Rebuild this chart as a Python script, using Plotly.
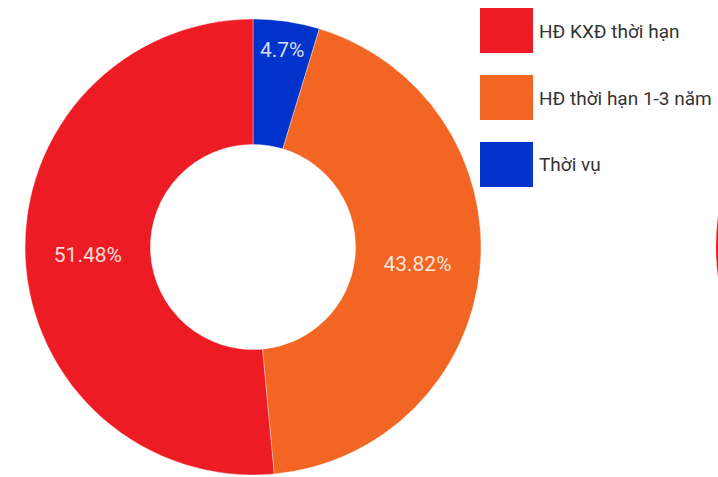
import plotly.graph_objects as go

# Contract-type breakdown (percent of staff)
labels = ["HĐ KXĐ thời hạn", "HĐ thời hạn 1-3 năm", "Thời vụ"]
values = [51.48, 43.82, 4.7]
colors = ["#ED1C24", "#F26522", "#0033CC"]

W, H = 718, 477

# Slices run clockwise from 12 o'clock: Thời vụ, 1-3 năm, KXĐ
order = [2, 1, 0]

fig = go.Figure()
fig.add_trace(go.Pie(
    labels=[labels[i] for i in order],
    values=[values[i] for i in order],
    hole=0.45,
    sort=False,
    direction="clockwise",
    rotation=0,
    marker=dict(colors=[colors[i] for i in order],
                line=dict(color="rgba(255,255,255,0.35)", width=1)),
    texttemplate="%{value}%",
    textposition="inside",
    insidetextorientation="horizontal",
    textfont=dict(family="Roboto, Liberation Sans, sans-serif", size=21,
                  color="rgba(255,255,255,0.85)"),
    hoverinfo="label+percent",
    showlegend=False,
    domain=dict(x=[25 / W, 481 / W], y=[1 - 475 / H, 1 - 19 / H]),
))

# Custom legend: large colour blocks with labels beside them
shapes = []
annotations = []
for i, (lab, col) in enumerate(zip(labels, colors)):
    top = 8 + i * 67
    shapes.append(dict(
        type="rect", xref="paper", yref="paper",
        x0=480 / W, x1=533 / W, y0=1 - (top + 45) / H, y1=1 - top / H,
        fillcolor=col, line=dict(width=0),
    ))
    annotations.append(dict(
        text=lab, xref="paper", yref="paper",
        x=537 / W, y=1 - (top + 23) / H, xanchor="left", yanchor="middle",
        showarrow=False,
        font=dict(family="Roboto, Liberation Sans, sans-serif", size=19, color="#333333"),
    ))

# Edge of the neighbouring donut just visible on the right
shapes.append(dict(
    type="circle", xref="paper", yref="paper",
    x0=716 / W, x1=1172 / W, y0=1 - 475 / H, y1=1 - 19 / H,
    fillcolor="#ED1C24", line=dict(width=0), layer="below",
))

fig.update_layout(
    width=W, height=H,
    margin=dict(l=0, r=0, t=0, b=0),
    paper_bgcolor="white",
    plot_bgcolor="white",
    shapes=shapes,
    annotations=annotations,
)

fig.write_html("out.html")
